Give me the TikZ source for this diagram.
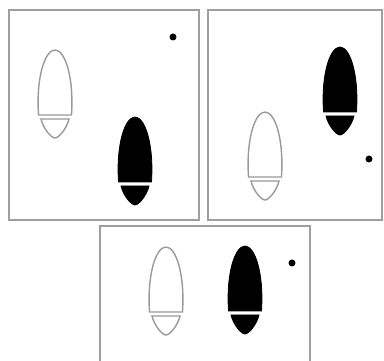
\documentclass[tikz,border=0pt]{standalone}
\usepackage{tikz}

\begin{document}
\begin{tikzpicture}[
        x=1pt,
        y=-1pt,
        frame/.style={draw=gray!75, line width=2.2pt},
        blank/.style={draw=gray!80, line width=1.4pt, fill=white},
        solid/.style={draw=black, line width=0.8pt, fill=black},
        spot/.style={circle, fill=black, inner sep=0pt, minimum size=7pt},
        pics/shoe/.style={code={
            % sole, bottom edge at the pic origin
            \path[pic actions] (-16.5,0) .. controls (-19,-38) and (-10,-65) .. (0,-65)
                .. controls (10,-65) and (19,-38) .. (16.5,0) -- cycle;
            % heel
            \path[pic actions] (-14,4) -- (14,4) .. controls (12,13) and (4,23) .. (0,23)
                .. controls (-4,23) and (-12,13) .. (-14,4) -- cycle;
        }}
    ]
        \useasboundingbox (0,0) rectangle (384,361);

        % three frames
        \draw[frame] (9,10) rectangle (199,220);
        \draw[frame] (208,10) rectangle (382,220);
        \draw[frame] (100,363) -- (100,226) -- (310,226) -- (310,363);

        % first frame
        \pic[blank] (left1) at (55,115) {shoe};
        \pic[solid] (right1) at (135,182) {shoe};
        \node[spot] (dot1) at (173,37) {};

        % second frame
        \pic[blank] (left2) at (265,177) {shoe};
        \pic[solid] (right2) at (340,112) {shoe};
        \node[spot] (dot2) at (369,159) {};

        % third frame
        \pic[blank] (left3) at (166,312) {shoe};
        \pic[solid] (right3) at (245,311) {shoe};
        \node[spot] (dot3) at (292,263) {};
    \end{tikzpicture}
\end{document}
